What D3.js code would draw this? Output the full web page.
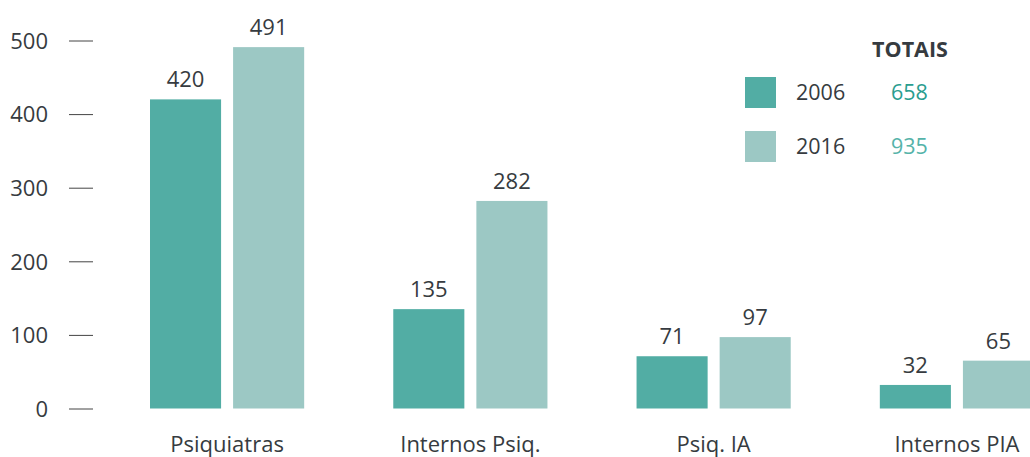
<!DOCTYPE html>
<html><head><meta charset="utf-8">
<script src="https://cdn.jsdelivr.net/npm/d3@7"></script>
<style>
body{margin:0;background:#fff;}
svg{display:block;font-family:"Open Sans",sans-serif;}
</style></head>
<body><svg id="c" width="1030" height="457"></svg>
<script>
const categories = ["Psiquiatras", "Internos Psiq.", "Psiq. IA", "Internos PIA"];
const years = ["2006", "2016"];
const values2006 = [420, 135, 71, 32];
const values2016 = [491, 282, 97, 65];
const totals = ["658", "935"];
const yTicks = [0, 100, 200, 300, 400, 500];

const colors = {"2006": "#52ada4", "2016": "#9cc8c4"};
const totalColors = {"2006": "#2a9d8f", "2016": "#55b3a9"};
const textColor = "#363b40";

const svg = d3.select("#c");
const y = d3.scaleLinear().domain([0, 500]).range([408.5, 40.5]);
const x = d3.scaleBand().domain(categories).range([150, 1034]).paddingInner(89/243).paddingOuter(0);
const xi = d3.scaleBand().domain(years).range([0, x.bandwidth()]).paddingInner(12/83);

// y axis
const yAxis = d3.axisLeft(y).tickValues(yTicks).tickSize(0).tickPadding(0);
const ga = svg.append("g").attr("transform", "translate(93,0)").call(yAxis);
ga.select(".domain").remove();
ga.selectAll(".tick line").remove();
ga.selectAll(".tick").append("line")
  .attr("x1", -24).attr("x2", 0).attr("y1", 0).attr("y2", 0)
  .attr("stroke", "#444").attr("stroke-width", 1);
ga.selectAll(".tick text").attr("x", -45).attr("dy", "0.35em")
  .attr("fill", textColor).attr("font-size", 22).attr("font-family", "Open Sans");

const data = categories.map((c, i) => ({cat: c, vals: [
  {year: "2006", v: values2006[i]}, {year: "2016", v: values2016[i]}]}));

const g = svg.selectAll("g.grp").data(data).join("g").attr("class", "grp")
  .attr("transform", d => `translate(${x(d.cat)},0)`);
g.selectAll("rect").data(d => d.vals).join("rect")
  .attr("x", d => xi(d.year)).attr("width", xi.bandwidth())
  .attr("y", d => y(d.v)).attr("height", d => y(0) - y(d.v))
  .attr("fill", d => colors[d.year]);
g.selectAll("text.val").data(d => d.vals).join("text").attr("class", "val")
  .attr("x", d => xi(d.year) + xi.bandwidth()/2).attr("y", d => y(d.v) - 12)
  .attr("text-anchor", "middle").attr("font-size", 22).attr("fill", textColor)
  .text(d => d.v);

// x category labels
const xAxis = d3.axisBottom(x).tickSize(0).tickPadding(0);
const gx = svg.append("g").attr("transform", "translate(0,452)").call(xAxis);
gx.select(".domain").remove();
gx.selectAll(".tick text").attr("dy", 0).attr("y", 0).attr("font-size", 22)
  .attr("font-family", "Open Sans").attr("fill", textColor);

// legend
svg.append("text").attr("x", 910).attr("y", 57).attr("text-anchor", "middle")
  .attr("font-weight", "bold").attr("font-size", 21.5).attr("fill", textColor).text("TOTAIS");
const lg = svg.selectAll("g.leg").data(years).join("g").attr("class", "leg")
  .attr("transform", (d, i) => `translate(745,${77 + i*54})`);
lg.append("rect").attr("width", 31).attr("height", 31).attr("fill", d => colors[d]);
lg.append("text").attr("x", 51).attr("y", 22.5).attr("font-size", 21.5).attr("fill", textColor).text(d => d);
lg.append("text").attr("x", 146).attr("y", 22.5).attr("font-size", 21.5)
  .attr("fill", d => totalColors[d]).text((d, i) => totals[i]);
</script></body></html>
